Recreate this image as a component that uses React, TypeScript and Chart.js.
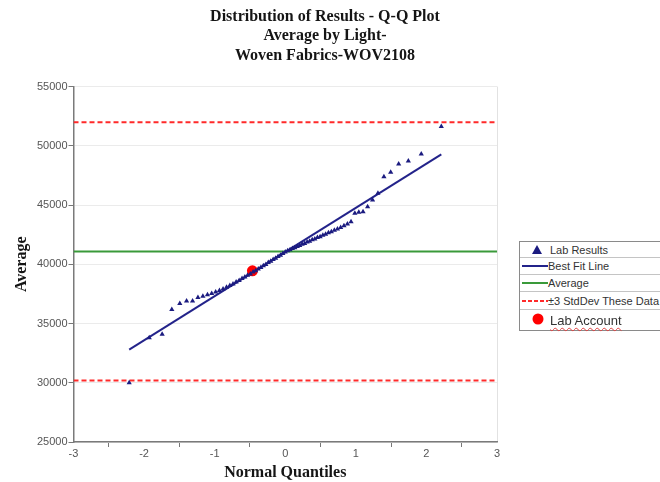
import React, { useEffect, useRef } from 'react';
import { Chart, registerables } from 'chart.js';

Chart.register(...registerables);

const titleLines = ['Distribution of Results - Q-Q Plot', 'Average by Light-', 'Woven Fabrics-WOV2108'];
const xAxisTitle = 'Normal Quantiles';
const yAxisTitle = 'Average';

// theoretical normal quantiles (x) of the sorted lab results
const quantiles = [
  -2.211, -1.927, -1.744, -1.607, -1.494, -1.398, -1.313, -1.237, -1.167, -1.102,
  -1.042, -0.986, -0.932, -0.881, -0.832, -0.785, -0.74, -0.696, -0.653, -0.612,
  -0.572, -0.533, -0.494, -0.456, -0.419, -0.382, -0.346, -0.31, -0.275, -0.24,
  -0.205, -0.171, -0.136, -0.102, -0.068, -0.034, 0,
  0.034, 0.068, 0.102, 0.136, 0.171, 0.205, 0.24, 0.275, 0.31, 0.346,
  0.382, 0.419, 0.456, 0.494, 0.533, 0.572, 0.612, 0.653, 0.696, 0.74,
  0.785, 0.832, 0.881, 0.932, 0.986, 1.042, 1.102, 1.167, 1.237, 1.313,
  1.398, 1.494, 1.607, 1.744, 1.927, 2.211,
];

const labResults = [
  30000, 33800, 34100, 36190, 36690, 36900, 36910, 37200, 37310, 37420,
  37540, 37650, 37780, 37920, 38060, 38210, 38340, 38510, 38640, 38800,
  38920, 39080, 39190, 39340, 39460, 39610, 39730, 39880, 39990, 40140,
  40250, 40400, 40510, 40660, 40770, 40920, 41030,
  41140, 41220, 41330, 41400, 41510, 41580, 41690, 41760, 41870, 41950,
  42060, 42140, 42250, 42330, 42460, 42540, 42660, 42750, 42880, 42970,
  43100, 43250, 43400, 43580, 44300, 44390, 44440, 44860, 45420, 45990,
  47390, 47760, 48470, 48720, 49310, 51620,
];

const fitLineX = [-2.211, 2.211];
const fitLineY = [32800, 49270];
const averageX = [-3, 3];
const averageValue = 41073;
const upperLimit = 51990;
const lowerLimit = 30190;
const labAccountX = [-0.465];
const labAccountY = [39450];

const legendItems = ['Lab Results', 'Best Fit Line', 'Average', '\u00b13 StdDev These Data', 'Lab Account'];

const NAVY = '#1b1b80';
const GREEN = '#3a9a3a';
const RED = '#ff2a2a';

export default function App() {
  const canvasRef = useRef<HTMLCanvasElement | null>(null);

  useEffect(() => {
    const canvas = canvasRef.current;
    if (!canvas) return;
    const tickFont = { family: "'Liberation Sans', Arial, sans-serif", size: 11 };
    const serifBold = { family: "'Liberation Serif', 'Times New Roman', serif", size: 16, weight: 'bold' as const };
    const chart = new Chart(canvas, {
      type: 'scatter',
      data: {
        datasets: [
          {
            label: legendItems[0],
            data: quantiles.map((q, i) => ({ x: q, y: labResults[i] })),
            pointStyle: 'triangle',
            pointRadius: 3,
            backgroundColor: NAVY,
            borderColor: NAVY,
            borderWidth: 0,
          },
          {
            label: legendItems[4],
            data: labAccountX.map((x, i) => ({ x, y: labAccountY[i] })),
            pointStyle: 'circle',
            pointRadius: 5.5,
            backgroundColor: '#ff0000',
            borderWidth: 0,
          },
          {
            label: legendItems[1],
            data: fitLineX.map((x, i) => ({ x, y: fitLineY[i] })),
            showLine: true,
            borderColor: '#23238a',
            borderWidth: 2,
            pointRadius: 0,
          },
          {
            label: legendItems[2],
            data: averageX.map((x) => ({ x, y: averageValue })),
            showLine: true,
            borderColor: GREEN,
            borderWidth: 2,
            pointRadius: 0,
          },
          {
            label: legendItems[3],
            data: averageX.map((x) => ({ x, y: upperLimit })),
            showLine: true,
            borderColor: RED,
            borderWidth: 2,
            borderDash: [5, 3],
            pointRadius: 0,
          },
          {
            label: legendItems[3] + ' (lower)',
            data: averageX.map((x) => ({ x, y: lowerLimit })),
            showLine: true,
            borderColor: RED,
            borderWidth: 2,
            borderDash: [5, 3],
            pointRadius: 0,
          },
        ],
      },
      options: {
        animation: false,
        responsive: false,
        devicePixelRatio: 1,
        layout: { padding: { left: 0, right: 10, top: 0, bottom: 0 } },
        plugins: {
          legend: { display: false },
          tooltip: { enabled: false },
          title: {
            display: true,
            text: titleLines,
            color: '#151515',
            font: { ...serifBold, lineHeight: 1.22 },
            padding: { top: 7, bottom: 21 },
          },
        },
        scales: {
          x: {
            type: 'linear',
            min: -3,
            max: 3,
            ticks: {
              stepSize: 0.5,
              autoSkip: false,
              maxRotation: 0,
              padding: 0,
              color: '#555',
              font: tickFont,
              callback: (v: any) => (Number.isInteger(Number(v)) ? String(v) : ''),
            },
            grid: {
              drawOnChartArea: true,
              color: (ctx: any) => (ctx.tick && ctx.tick.value === 3 ? '#e2e2e2' : 'rgba(0,0,0,0)'),
              tickColor: (ctx: any) => (ctx.tick && !Number.isInteger(ctx.tick.value) ? '#777' : 'rgba(0,0,0,0)'),
              tickLength: 5,
            },
            border: { color: '#7a7a7a', width: 1.5 },
            title: {
              display: true,
              text: xAxisTitle,
              color: '#151515',
              font: serifBold,
              padding: { top: 2, bottom: 0 },
            },
            afterFit: (s: any) => {
              s.height = 40;
            },
          },
          y: {
            type: 'linear',
            min: 25000,
            max: 55000,
            ticks: {
              stepSize: 5000,
              padding: 1,
              color: '#555',
              font: tickFont,
              callback: (v: any) => String(v),
            },
            grid: {
              color: '#ebebeb',
              tickColor: '#777',
              tickLength: 5,
            },
            border: { color: '#7a7a7a', width: 1.5 },
            title: {
              display: true,
              text: yAxisTitle,
              color: '#151515',
              font: serifBold,
              padding: { top: 12, bottom: 0 },
            },
            afterFit: (s: any) => {
              s.width = 73.5;
            },
          },
          legendSpace: {
            type: 'linear',
            position: 'right',
            display: true,
            ticks: { display: false },
            grid: { display: false },
            border: { display: false },
            afterFit: (s: any) => {
              s.width = 153;
            },
          },
        },
      },
    });
    return () => chart.destroy();
  }, []);

  const rowBase: React.CSSProperties = {
    position: 'relative',
    borderBottom: '1px solid #c4c4c4',
    display: 'flex',
    alignItems: 'center',
    fontFamily: "'Liberation Sans', Arial, sans-serif",
    fontSize: 11,
    color: '#333',
    whiteSpace: 'nowrap',
  };

  return (
    <div style={{ position: 'fixed', left: 0, top: 0, width: 660, height: 482, overflow: 'hidden', background: '#fff' }}>
      <canvas ref={canvasRef} width={660} height={482} style={{ display: 'block', width: 660, height: 482 }} />
      <div
        style={{
          position: 'absolute',
          left: 519,
          top: 241,
          width: 170,
          border: '1px solid #8a8a8a',
          background: '#fff',
        }}
      >
        <div style={{ ...rowBase, height: 15 }}>
          <svg width={30} height={15} style={{ flex: 'none' }}>
            <polygon points="12,12 17,3 22,12" fill={NAVY} />
          </svg>
          <span>{legendItems[0]}</span>
        </div>
        <div style={{ ...rowBase, height: 16 }}>
          <svg width={28} height={16} style={{ flex: 'none' }}>
            <line x1={2} y1={8} x2={28} y2={8} stroke="#23238a" strokeWidth={2} />
          </svg>
          <span>{legendItems[1]}</span>
        </div>
        <div style={{ ...rowBase, height: 16 }}>
          <svg width={28} height={16} style={{ flex: 'none' }}>
            <line x1={2} y1={8} x2={28} y2={8} stroke={GREEN} strokeWidth={2} />
          </svg>
          <span>{legendItems[2]}</span>
        </div>
        <div style={{ ...rowBase, height: 17 }}>
          <svg width={28} height={17} style={{ flex: 'none' }}>
            <line x1={2} y1={9} x2={28} y2={9} stroke={RED} strokeWidth={2} strokeDasharray="4,2" />
          </svg>
          <span>{legendItems[3]}</span>
        </div>
        <div style={{ ...rowBase, height: 20, borderBottom: 'none', fontSize: 13 }}>
          <svg width={30} height={20} style={{ flex: 'none' }}>
            <circle cx={18} cy={9} r={5.5} fill="#ff0000" />
          </svg>
          <span style={{ textDecoration: 'underline wavy #e04040', textDecorationThickness: 1, textUnderlineOffset: 2 }}>
            {legendItems[4]}
          </span>
        </div>
      </div>
    </div>
  );
}
